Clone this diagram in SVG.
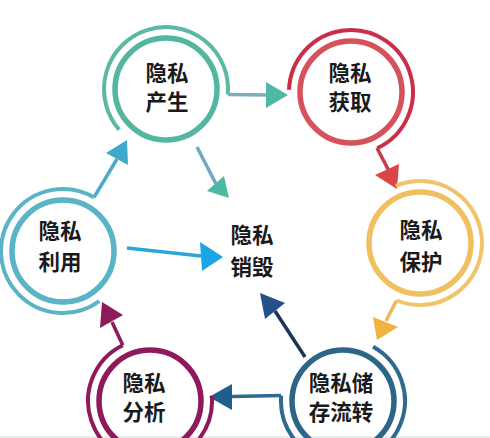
<svg xmlns="http://www.w3.org/2000/svg" width="490" height="438" viewBox="0 0 490 438">
<style>
  .t{font-family:"Noto Sans CJK SC","Noto Sans",sans-serif;font-weight:700;font-size:21.5px;fill:#1a1a1a;text-anchor:middle}
  .in{fill:none;stroke-width:5.5}
  .out{fill:none;stroke-width:4;stroke-linecap:butt}
  .ln{fill:none;stroke-width:3.5;stroke-linecap:butt}
</style>
<rect width="490" height="438" fill="#ffffff"/>
<rect x="0" y="436" width="490" height="2" fill="#ececec"/>

<g id="connectors">
  <line class="ln" x1="228" y1="94.5" x2="268" y2="95" stroke="#7eacbc"/>
  <polygon points="288,95 266,82 266,108" fill="#4fb8a5"/>

  <line class="ln" x1="377" y1="148" x2="389" y2="171" stroke="#c93a48"/>
  <polygon points="397,189 375,175 399,164" fill="#da4548"/>

  <line class="ln" x1="396.5" y1="300.5" x2="386" y2="321" stroke="#e9b95a"/>
  <polygon points="377,340 373,317 398,327" fill="#f0b340"/>

  <line class="ln" x1="281" y1="395.6" x2="232" y2="396.5" stroke="#2d6a8e"/>
  <polygon points="209,397 232,384 232,410" fill="#1f5e88"/>

  <line class="ln" x1="122.8" y1="345.3" x2="112" y2="322" stroke="#8c1b5b"/>
  <polygon points="102,302 100,328 123,315" fill="#8c1b5b"/>

  <line class="ln" x1="94" y1="197.3" x2="117" y2="159" stroke="#4aabc8"/>
  <polygon points="127,140 106,153 128,165" fill="#3fa9cc"/>

  <line class="ln" x1="197" y1="147" x2="216" y2="184" stroke="#6fa8c4"/>
  <polygon points="229,198 207,191 224,176" fill="#4cb9a3"/>

  <line class="ln" x1="127" y1="248" x2="201" y2="256" stroke="#2aa7d9"/>
  <polygon points="223,257 200,242 202,271" fill="#1aa6e4"/>

  <line class="ln" x1="305" y1="357" x2="275" y2="311" stroke="#1c3557"/>
  <polygon points="260,293 285,303 265,319" fill="#264f8a"/>
</g>

<g id="n-chansheng">
  <circle class="in" cx="166" cy="89" r="51" stroke="#54b6a0"/>
  <path class="out" d="M119.2,129.7 A62,62 0 1 1 227.8,94.4" stroke="#5ab8a3"/>
  <text class="t" x="167" y="81">隐私</text>
  <text class="t" x="167" y="110">产生</text>
</g>

<g id="n-huoqu">
  <circle class="in" cx="351" cy="92" r="51" stroke="#d6525a"/>
  <path class="out" d="M289,89.8 A62,62 0 1 1 377.2,148.2" stroke="#cc2d48"/>
  <text class="t" x="350" y="81">隐私</text>
  <text class="t" x="350" y="110">获取</text>
</g>

<g id="n-baohu">
  <circle class="in" cx="420" cy="243" r="51" stroke="#f0c060"/>
  <path class="out" d="M395.8,185.9 A62,62 0 1 1 396.8,300.5" stroke="#efc46a"/>
  <text class="t" x="421" y="238">隐私</text>
  <text class="t" x="421" y="270">保护</text>
</g>

<g id="n-cunchu">
  <circle class="in" cx="343" cy="401" r="51" stroke="#2c6588"/>
  <path class="out" d="M373.1,346.8 A62,62 0 1 1 281.2,395.6" stroke="#2f6a8e"/>
  <text class="t" x="341" y="391">隐私储</text>
  <text class="t" x="341" y="420">存流转</text>
</g>

<g id="n-fenxi">
  <circle class="in" cx="150" cy="401" r="51" stroke="#8e1a5c"/>
  <path class="out" d="M211.8,395.6 A62,62 0 1 1 122.8,345.3" stroke="#8e1a5c"/>
  <text class="t" x="144" y="391">隐私</text>
  <text class="t" x="144" y="420">分析</text>
</g>

<g id="n-liyong">
  <circle class="in" cx="63" cy="251" r="51" stroke="#5bb4c6"/>
  <path class="out" d="M99.4,301.2 A62,62 0 1 1 94,197.3" stroke="#5bb4c6"/>
  <text class="t" x="60" y="239">隐私</text>
  <text class="t" x="60" y="270">利用</text>
</g>

<g id="n-xiaohui">
  <text class="t" x="252" y="243">隐私</text>
  <text class="t" x="252" y="275">销毁</text>
</g>
</svg>
